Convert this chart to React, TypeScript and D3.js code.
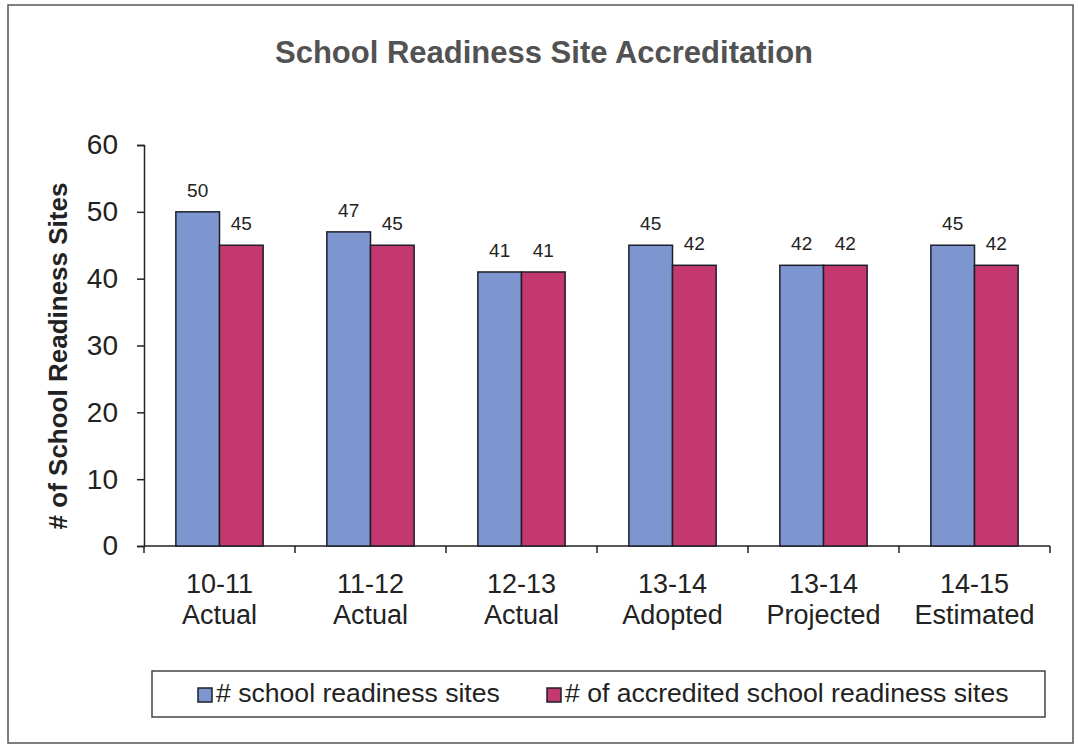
import React, { useEffect, useRef } from 'react'
import * as d3 from 'd3'

const categories = [
  ['10-11', 'Actual'],
  ['11-12', 'Actual'],
  ['12-13', 'Actual'],
  ['13-14', 'Adopted'],
  ['13-14', 'Projected'],
  ['14-15', 'Estimated'],
]
const seriesNames = ['# school readiness sites', '# of accredited school readiness sites']
const readinessSites = [50, 47, 41, 45, 42, 45]
const accreditedSites = [45, 45, 41, 42, 42, 42]
const yTicks = [0, 10, 20, 30, 40, 50, 60]
const colors = ['#7e96d0', '#c3386f']

const FONT = '"Liberation Sans", Arial, sans-serif'

const App = () => {
  const svgRef = useRef<SVGSVGElement>(null)

  useEffect(() => {
    const svg = d3.select(svgRef.current)
    svg.selectAll('*').remove()

    const left = 144, right = 1050, top = 145, bottom = 546

    // outer frame
    svg.append('rect')
      .attr('x', 8).attr('y', 5).attr('width', 1065).attr('height', 738)
      .attr('fill', '#fff').attr('stroke', '#555').attr('stroke-width', 1.5)

    svg.append('text')
      .attr('x', 544).attr('y', 63)
      .attr('text-anchor', 'middle')
      .attr('font-family', FONT).attr('font-weight', 'bold').attr('font-size', 31)
      .attr('fill', '#525252')
      .text('School Readiness Site Accreditation')

    const keys = categories.map((c, i) => String(i))
    const x0 = d3.scaleBand<string>().domain(keys).range([left, right]).padding(0)
    const x1 = d3.scaleBand<number>().domain([0, 1]).range([0, x0.bandwidth()]).paddingInner(0).paddingOuter(0.73)
    const y = d3.scaleLinear().domain([0, 60]).range([bottom, top])

    // y axis
    const yAxis = svg.append('g').attr('transform', `translate(${left},0)`)
      .call(d3.axisLeft(y).tickValues(yTicks).tickSize(7).tickPadding(19))
    yAxis.select('.domain').attr('stroke', '#222').attr('stroke-width', 1.5)
    yAxis.selectAll('line').attr('stroke', '#222').attr('stroke-width', 1.5)
    yAxis.selectAll('text').attr('font-family', FONT).attr('font-size', 28).attr('fill', '#222')

    // x axis
    const xg = svg.append('g')
    xg.append('line')
      .attr('x1', left).attr('x2', right).attr('y1', bottom).attr('y2', bottom)
      .attr('stroke', '#222').attr('stroke-width', 1.5)
    const bounds = [...keys.map(k => x0(k) as number), right]
    xg.selectAll('line.tick').data(bounds).join('line')
      .attr('class', 'tick')
      .attr('x1', d => d).attr('x2', d => d)
      .attr('y1', bottom).attr('y2', bottom + 7)
      .attr('stroke', '#222').attr('stroke-width', 1.5)

    const catLabels = xg.selectAll('text.cat').data(categories).join('text')
      .attr('class', 'cat')
      .attr('text-anchor', 'middle')
      .attr('font-family', FONT).attr('font-size', 27).attr('fill', '#222')
    catLabels.each(function (d, i) {
      const cx = (x0(String(i)) as number) + x0.bandwidth() / 2
      const t = d3.select(this)
      t.append('tspan').attr('x', cx).attr('y', 593).text(d[0])
      t.append('tspan').attr('x', cx).attr('y', 624).text(d[1])
    })

    // bars
    const rows = categories.map((c, i) => ({ key: String(i), vals: [readinessSites[i], accreditedSites[i]] }))
    const groups = svg.append('g').selectAll('g').data(rows).join('g')
      .attr('transform', d => `translate(${x0(d.key)},0)`)
    groups.selectAll('rect').data(d => d.vals.map((v, s) => ({ v, s }))).join('rect')
      .attr('x', d => x1(d.s) as number)
      .attr('width', x1.bandwidth())
      .attr('y', d => y(d.v))
      .attr('height', d => y(0) - y(d.v))
      .attr('fill', d => colors[d.s])
      .attr('stroke', '#1e1e2a').attr('stroke-width', 1.5)
    groups.selectAll('text').data(d => d.vals.map((v, s) => ({ v, s }))).join('text')
      .attr('x', d => (x1(d.s) as number) + x1.bandwidth() / 2)
      .attr('y', d => y(d.v) - 15)
      .attr('text-anchor', 'middle')
      .attr('font-family', FONT).attr('font-size', 19).attr('fill', '#222')
      .text(d => d.v)

    // y axis title
    svg.append('text')
      .attr('transform', `translate(67,356) rotate(-90)`)
      .attr('text-anchor', 'middle')
      .attr('font-family', FONT).attr('font-weight', 'bold').attr('font-size', 26)
      .attr('fill', '#222')
      .text('# of School Readiness Sites')

    // legend
    const lg = svg.append('g')
    lg.append('rect')
      .attr('x', 152).attr('y', 671).attr('width', 893).attr('height', 46)
      .attr('fill', '#fff').attr('stroke', '#444').attr('stroke-width', 1.5)
    const legendX = [198, 547]
    seriesNames.forEach((name, s) => {
      lg.append('rect')
        .attr('x', legendX[s]).attr('y', 688).attr('width', 14).attr('height', 14)
        .attr('fill', colors[s]).attr('stroke', '#1e1e2a').attr('stroke-width', 1.5)
      lg.append('text')
        .attr('x', legendX[s] + 18).attr('y', 702)
        .attr('font-family', FONT).attr('font-size', 26.6).attr('fill', '#222')
        .text(name)
    })
  }, [])

  return (
    <svg ref={svgRef} width={1078} height={750} style={{ position: 'absolute', left: 0, top: 0 }} />
  )
}

export default App
